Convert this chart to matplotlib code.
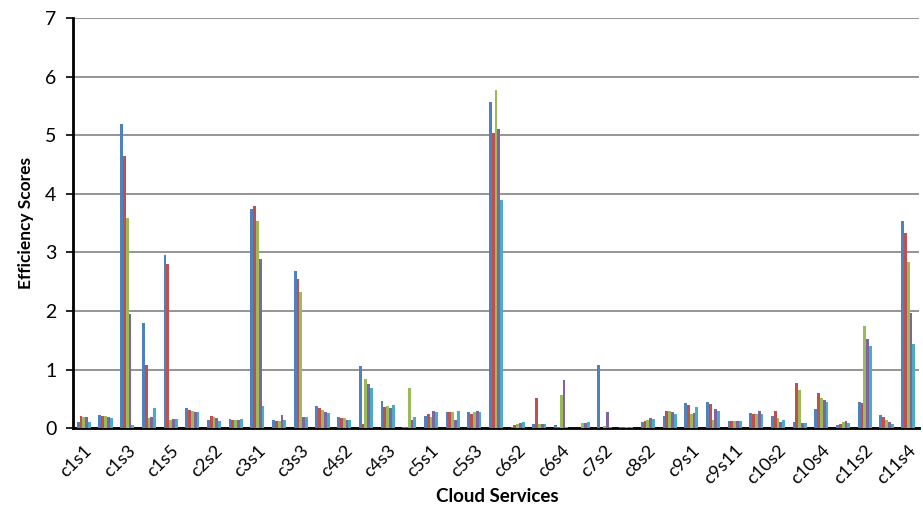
import numpy as np
import matplotlib
matplotlib.use("Agg")
import matplotlib.pyplot as plt
from matplotlib.transforms import ScaledTranslation

plt.rcParams["font.family"] = ["Lato", "DejaVu Sans"]

# cloud services (only every other name fits under the axis)
services = [
    "c1s1", "c1s2", "c1s3", "c1s4", "c1s5", "c2s1", "c2s2", "c2s3",
    "c3s1", "c3s2", "c3s3", "c4s1", "c4s2", "c4s22", "c4s3", "c4s4",
    "c5s1", "c5s2", "c5s3", "c6s1", "c6s2", "c6s3", "c6s4", "c7s1",
    "c7s2", "c8s1", "c8s2", "c8s3", "c9s1", "c9s10", "c9s11", "c10s1",
    "c10s2", "c10s3", "c10s4", "c11s1", "c11s2", "c11s3", "c11s4",
]

# efficiency score per service, one list per series
series_1 = [0.10, 0.23, 5.19, 1.79, 2.96, 0.34, 0.14, 0.16, 3.75, 0.14,
            2.68, 0.38, 0.20, 1.07, 0.46, 0.02, 0.21, 0.28, 0.27, 5.56,
            0.03, 0.07, 0.05, 0.005, 1.08, 0.03, 0.10, 0.21, 0.44, 0.45,
            0.12, 0.26, 0.21, 0.11, 0.335, 0.05, 0.455, 0.23, 3.53]
series_2 = [0.21, 0.21, 4.65, 1.08, 2.80, 0.32, 0.21, 0.15, 3.79, 0.13,
            2.55, 0.35, 0.18, 0.07, 0.365, 0.02, 0.24, 0.27, 0.24, 5.03,
            0.06, 0.52, 0.03, 0.005, 0.01, 0.03, 0.13, 0.29, 0.40, 0.42,
            0.12, 0.25, 0.29, 0.77, 0.61, 0.07, 0.43, 0.19, 3.34]
series_3 = [0.19, 0.21, 3.59, 0.18, 0.15, 0.30, 0.19, 0.15, 3.53, 0.13,
            2.33, 0.31, 0.17, 0.85, 0.38, 0.69, 0.20, 0.27, 0.27, 5.78,
            0.07, 0.07, 0.57, 0.085, 0.045, 0.03, 0.15, 0.30, 0.25, 0.15,
            0.12, 0.24, 0.18, 0.66, 0.51, 0.10, 1.74, 0.14, 2.84]
series_4 = [0.19, 0.19, 1.95, 0.19, 0.165, 0.27, 0.17, 0.15, 2.89, 0.23,
            0.19, 0.28, 0.15, 0.75, 0.34, 0.14, 0.30, 0.15, 0.30, 5.11,
            0.09, 0.07, 0.82, 0.09, 0.28, 0.03, 0.17, 0.27, 0.26, 0.33,
            0.12, 0.29, 0.11, 0.09, 0.48, 0.12, 1.53, 0.10, 1.96]
series_5 = [0.11, 0.18, 0.05, 0.35, 0.165, 0.27, 0.13, 0.16, 0.38, 0.14,
            0.19, 0.26, 0.14, 0.69, 0.39, 0.20, 0.27, 0.29, 0.27, 3.89,
            0.10, 0.07, 0.03, 0.11, 0.02, 0.03, 0.16, 0.25, 0.37, 0.29,
            0.12, 0.25, 0.14, 0.085, 0.455, 0.085, 1.41, 0.075, 1.44]

all_series = [series_1, series_2, series_3, series_4, series_5]
colors = ["#4F81BD", "#C0504D", "#9BBB59", "#8064A2", "#4BACC6"]

fig = plt.figure(figsize=(9.23, 5.09), dpi=100)
ax = fig.add_axes([0.0791, 0.1585, 0.9166, 0.8061])

x = np.arange(len(services))
width = 0.13
for k, (vals, col) in enumerate(zip(all_series, colors)):
    offset = (k - 2) * width
    ax.bar(x + offset, vals, width=width, color=col, linewidth=0, zorder=3)

ax.set_xlim(-0.5, len(services) - 0.5)
ax.set_ylim(0, 7)
ax.set_yticks(range(0, 8))
ax.yaxis.grid(True, color="#8c8c8c", linewidth=1.3, zorder=0)
ax.set_axisbelow(True)

ax.set_xticks(x[::2])
ax.set_xticklabels(services[::2], rotation=45, ha="right",
                   rotation_mode="anchor", fontsize=13)
# nudge the slanted names a little to the right of their group
shift = ScaledTranslation(6 / 100, 0, fig.dpi_scale_trans)
for lbl in ax.get_xticklabels():
    lbl.set_transform(lbl.get_transform() + shift)
ax.tick_params(axis="x", length=0, pad=10)
ax.tick_params(axis="y", length=5, width=1.2, direction="out",
               pad=7, labelsize=14)

for side in ("top", "right"):
    ax.spines[side].set_visible(False)
for side in ("left", "bottom"):
    ax.spines[side].set_linewidth(2)
    ax.spines[side].set_color("black")

fig.text(497 / 923, 1 - 497 / 509, "Cloud Services", fontsize=13.5,
         fontweight="bold", ha="center", va="center")
ax.set_ylabel("Efficiency Scores", fontsize=12.5, fontweight="bold", labelpad=8)

fig.savefig("out.png", dpi=100)
